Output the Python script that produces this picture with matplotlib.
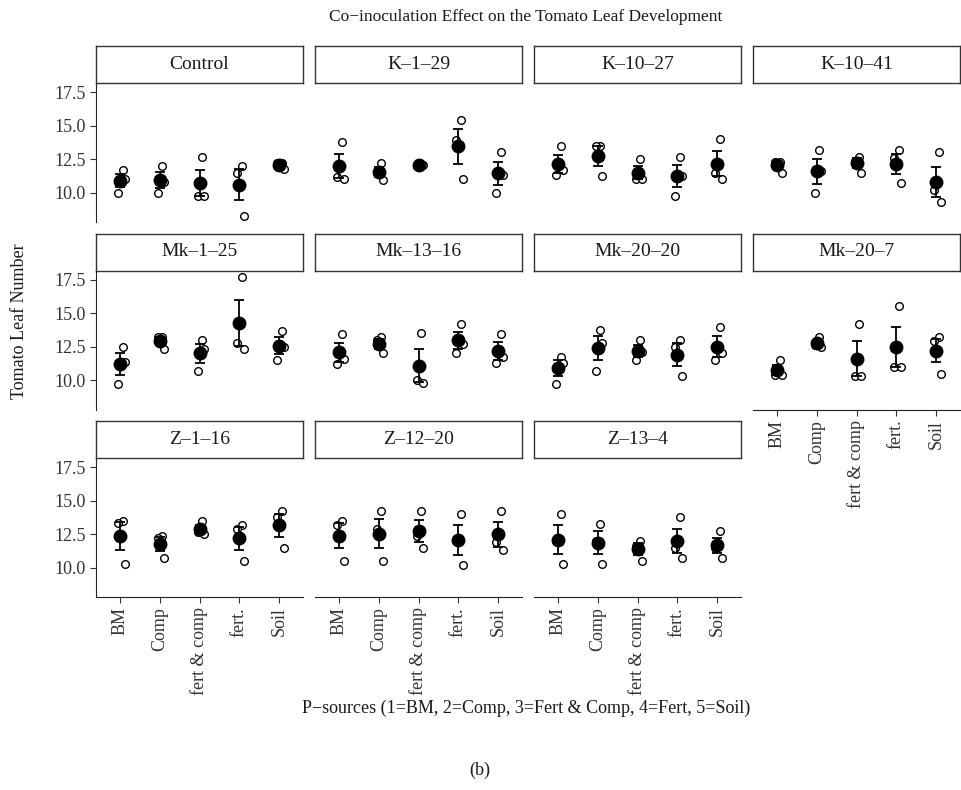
import numpy as np
import matplotlib
matplotlib.use("Agg")
import matplotlib.pyplot as plt

plt.rcParams['font.family'] = ['Liberation Serif', 'DejaVu Serif']

sources = ['BM', 'Comp', 'fert & comp', 'fert.', 'Soil']
strains = ['Control', 'K\u20131\u201329', 'K\u201310\u201327', 'K\u201310\u201341',
           'Mk\u20131\u201325', 'Mk\u201313\u201316', 'Mk\u201320\u201320', 'Mk\u201320\u20137',
           'Z\u20131\u201316', 'Z\u201312\u201320', 'Z\u201313\u20134']

# three replicate leaf counts per P-source (BM, Comp, fert & comp, fert., Soil)
control = [[11.7, 10.0, 11.0], [12.0, 10.0, 10.8], [12.7, 9.75, 9.75], [12.0, 11.5, 8.3], [12.2, 12.2, 11.75]]
k_1_29 = [[13.8, 11.2, 11.0], [12.25, 11.5, 10.95], [12.1, 12.0, 12.1], [15.45, 13.95, 11.0], [13.0, 10.0, 11.35]]
k_10_27 = [[13.5, 11.3, 11.7], [13.5, 13.45, 11.25], [12.5, 11.0, 11.0], [12.7, 9.8, 11.25], [13.97, 11.5, 11.0]]
k_10_41 = [[12.3, 12.3, 11.5], [13.2, 10.0, 11.6], [12.7, 12.4, 11.5], [13.2, 12.6, 10.7], [13.0, 10.2, 9.3]]
mk_1_25 = [[12.5, 9.7, 11.4], [13.2, 13.2, 12.3], [13.0, 10.7, 12.3], [17.65, 12.75, 12.3], [13.7, 11.5, 12.5]]
mk_13_16 = [[13.45, 11.25, 11.55], [13.2, 13.0, 12.0], [13.5, 10.0, 9.8], [14.2, 12.0, 12.7], [13.46, 11.3, 11.7]]
mk_20_20 = [[11.7, 9.7, 11.3], [13.75, 10.7, 12.75], [13.0, 11.5, 12.1], [13.0, 12.45, 10.3], [14.0, 11.5, 12.0]]
mk_20_7 = [[11.5, 10.4, 10.4], [13.2, 12.6, 12.5], [14.2, 10.3, 10.3], [15.5, 11.0, 11.0], [13.2, 12.9, 10.5]]
z_1_16 = [[13.45, 13.3, 10.3], [12.4, 12.2, 10.7], [13.5, 12.7, 12.5], [13.2, 12.9, 10.5], [14.25, 13.75, 11.5]]
z_12_20 = [[13.5, 13.2, 10.5], [14.25, 12.9, 10.5], [14.25, 12.4, 11.5], [14.0, 12.0, 10.2], [14.25, 11.9, 11.3]]
z_13_4 = [[14.0, 12.0, 10.3], [13.25, 12.0, 10.3], [12.0, 11.6, 10.5], [13.75, 11.5, 10.75], [12.75, 11.5, 10.75]]

all_data = [control, k_1_29, k_10_27, k_10_41, mk_1_25, mk_13_16, mk_20_20, mk_20_7,
            z_1_16, z_12_20, z_13_4]

yticks = [10.0, 12.5, 15.0, 17.5]

W, H = 961, 790
fig = plt.figure(figsize=(W / 100, H / 100), dpi=100)

left0, pw, gap = 96, 207, 12
strip_top0, strip_h, ph, row_step = 46, 37, 139, 187.5
jit = [0.07, -0.05, 0.12]
x = np.arange(1, 6)


def px_rect(l, t, w, h):
    return [l / W, 1 - (t + h) / H, w / W, h / H]


for i, (name, data) in enumerate(zip(strains, all_data)):
    r, c = divmod(i, 4)
    l = left0 + c * (pw + gap)
    st = strip_top0 + r * row_step

    sax = fig.add_axes(px_rect(l, st, pw, strip_h))
    sax.set_xticks([])
    sax.set_yticks([])
    for sp in sax.spines.values():
        sp.set_color('#333333')
        sp.set_linewidth(1.0)
    sax.text(0.5, 0.5, name, ha='center', va='center', fontsize=14, color='#1a1a1a',
             transform=sax.transAxes)

    ax = fig.add_axes(px_rect(l, st + strip_h, pw, ph))
    vals = np.array(data)
    means = vals.mean(axis=1)
    se = vals.std(axis=1, ddof=1) / np.sqrt(vals.shape[1])
    for k in range(vals.shape[1]):
        ax.plot(x + jit[k], vals[:, k], 'o', mfc='white', mec='black', ms=5.5, mew=1.0,
                ls='none', zorder=2)
    ax.errorbar(x, means, yerr=se, fmt='none', ecolor='black', elinewidth=1.3,
                capsize=3.5, capthick=1.3, zorder=3)
    ax.plot(x, means, 'o', color='black', ms=9, ls='none', zorder=4)

    ax.set_xlim(0.4, 5.6)
    ax.set_ylim(7.83, 18.17)
    ax.set_facecolor('none')
    for sp in ['top', 'right']:
        ax.spines[sp].set_visible(False)

    if c == 0:
        ax.spines['left'].set_color('#222222')
        ax.set_yticks(yticks)
        ax.set_yticklabels(['{:.1f}'.format(v) for v in yticks], fontsize=13, color='#333333')
        ax.tick_params(axis='y', length=4, color='#333333')
    else:
        ax.spines['left'].set_visible(False)
        ax.set_yticks([])

    bottom_panel = (r == 2) or (r == 1 and c == 3)
    if bottom_panel:
        ax.spines['bottom'].set_color('#222222')
        ax.set_xticks(x)
        ax.set_xticklabels(sources, rotation=90, fontsize=13, color='#333333')
        ax.tick_params(axis='x', length=4, color='#333333')
    else:
        ax.spines['bottom'].set_visible(False)
        ax.set_xticks([])

fig.text(526 / W, 1 - 17 / H, 'Co\u2212inoculation Effect on the Tomato Leaf Development',
         ha='center', va='center', fontsize=12.5, color='#1a1a1a')
fig.text(20 / W, 1 - 321 / H, 'Tomato Leaf Number', rotation=90,
         ha='center', va='center', fontsize=13, color='#1a1a1a')
fig.text(526 / W, 1 - 708 / H, 'P\u2212sources (1=BM, 2=Comp, 3=Fert & Comp, 4=Fert, 5=Soil)',
         ha='center', va='center', fontsize=13, color='#1a1a1a')
fig.text(480 / W, 1 - 770 / H, '(b)', ha='center', va='center', fontsize=13, color='#1a1a1a')

fig.savefig('out.png', dpi=100)
